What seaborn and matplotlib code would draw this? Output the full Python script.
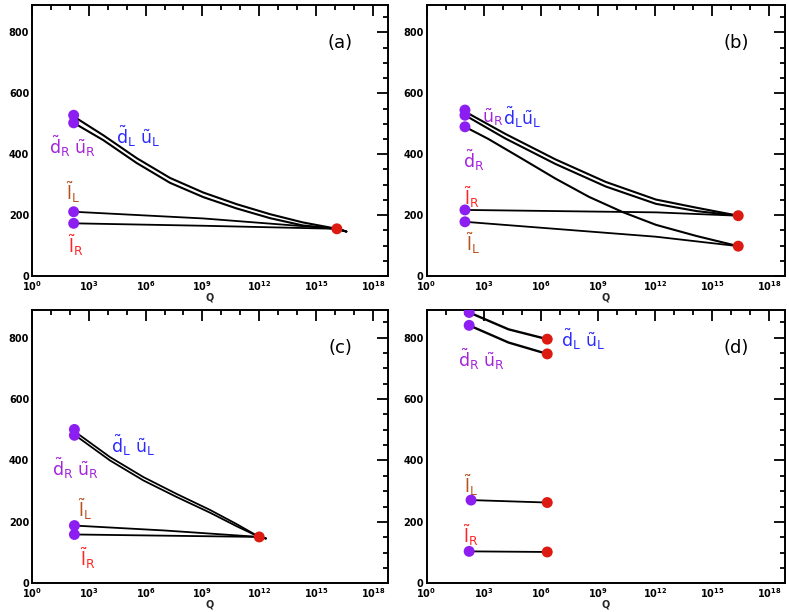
import numpy as np
import pandas as pd
import matplotlib
matplotlib.use("Agg")
import matplotlib.pyplot as plt
import seaborn as sns
from matplotlib.ticker import FixedLocator, NullFormatter

# ---------------- data (x = log10 Q, y = mass) ----------------
# panel (a)
a_sq1_x = [2.2, 3.77, 5.53, 7.29, 9.05, 10.8, 12.57, 14.3, 16.1, 16.6]
a_sq1_y = [524, 462, 387, 322, 274, 236, 203, 176, 155, 146]
a_sq2_x = [2.2, 3.77, 5.53, 7.29, 9.05, 10.8, 12.57, 14.3, 16.1, 16.6]
a_sq2_y = [503, 446, 371, 306, 259, 222, 190, 166, 155, 146]
a_lL_x = [2.2, 9.05, 16.1, 16.6]
a_lL_y = [211, 189, 155, 146]
a_lR_x = [2.2, 9.05, 16.1, 16.6]
a_lR_y = [173, 165, 155, 146]
a_low_x = [2.2, 2.2, 2.2, 2.2]
a_low_y = [528, 503, 211, 173]
a_high_x = [16.1]
a_high_y = [155]

# panel (b)
b_sq1_x = [2.02, 4.13, 6.77, 9.41, 12.05, 14.2, 16.37]
b_sq1_y = [540, 467, 383, 309, 251, 224, 198]
b_sq2_x = [2.02, 4.13, 6.77, 9.41, 12.05, 14.2, 16.37]
b_sq2_y = [528, 452, 368, 294, 237, 213, 198]
b_dR_x = [2.02, 3.25, 5.02, 6.77, 8.53, 10.3, 12.05, 14.2, 16.37]
b_dR_y = [490, 450, 385, 320, 260, 210, 168, 131, 98]
b_lR_x = [2.02, 12.05, 16.37]
b_lR_y = [217, 209, 198]
b_lL_x = [2.02, 12.05, 16.37]
b_lL_y = [178, 129, 98]
b_low_x = [2.02, 2.02, 2.02, 2.02, 2.02]
b_low_y = [545, 528, 490, 217, 178]
b_high_x = [16.37, 16.37]
b_high_y = [198, 98]

# panel (c)
c_sq1_x = [2.24, 2.53, 4.12, 5.88, 7.64, 9.4, 10.8, 12.0, 12.35]
c_sq1_y = [494, 482, 411, 346, 291, 239, 193, 151, 146]
c_sq2_x = [2.24, 2.53, 4.12, 5.88, 7.64, 9.4, 10.8, 12.0, 12.35]
c_sq2_y = [482, 471, 400, 335, 281, 230, 186, 151, 146]
c_lL_x = [2.24, 7.0, 12.0, 12.35]
c_lL_y = [188, 172, 151, 146]
c_lR_x = [2.24, 12.0, 12.35]
c_lR_y = [159, 151, 146]
c_low_x = [2.24, 2.24, 2.24, 2.24]
c_low_y = [501, 482, 188, 159]
c_high_x = [12.0]
c_high_y = [151]

# panel (d)
d_sq1_x = [2.24, 4.31, 6.34]
d_sq1_y = [882, 827, 795]
d_sq2_x = [2.24, 4.31, 6.34]
d_sq2_y = [840, 784, 747]
d_lL_x = [2.34, 6.34]
d_lL_y = [271, 263]
d_lR_x = [2.24, 6.34]
d_lR_y = [104, 102]
d_low_x = [2.24, 2.24, 2.34, 2.24]
d_low_y = [882, 840, 271, 104]
d_high_x = [6.34, 6.34, 6.34, 6.34]
d_high_y = [795, 747, 263, 102]

xtick_exponents = [0, 3, 6, 9, 12, 15, 18]
ytick_values = [0, 200, 400, 600, 800]
panel_names = ["(a)", "(b)", "(c)", "(d)"]

PURPLE_MK = "#8C1EF2"
PURPLE_TX = "#A524DA"
BLUE_TX = "#2B2BFF"
BROWN_TX = "#B5521E"
RED_TX = "#FF2424"
RED_MK = "#DD1A12"

DRUR = r"$\tilde{d}_R\ \tilde{u}_R$"
DLUL = r"$\tilde{d}_L\ \tilde{u}_L$"
LL = r"$\tilde{l}_L$"
LR = r"$\tilde{l}_R$"

# label texts: (text, logQ, mass, colour)
a_labels = [(DLUL, 5.61, 460, BLUE_TX), (DRUR, 2.12, 426, PURPLE_TX),
            (LL, 2.17, 276, BROWN_TX), (LR, 2.3, 102, RED_TX)]
b_labels = [(r"$\tilde{u}_R$", 3.47, 521, PURPLE_TX),
            (r"$\tilde{d}_L\tilde{u}_L$", 5.0, 521, BLUE_TX),
            (r"$\tilde{d}_R$", 2.46, 381, PURPLE_TX),
            (LR, 2.37, 260, RED_TX), (LL, 2.46, 107, BROWN_TX)]
c_labels = [(DLUL, 5.35, 449, BLUE_TX), (DRUR, 2.29, 373, PURPLE_TX),
            (LL, 2.8, 241, BROWN_TX), (LR, 2.94, 80, RED_TX)]
d_labels = [(DLUL, 8.22, 795, BLUE_TX), (DRUR, 2.9, 729, PURPLE_TX),
            (LL, 2.34, 318, BROWN_TX), (LR, 2.34, 156, RED_TX)]


def frame(curves):
    rows = []
    for name, xs, ys in curves:
        for x, y in zip(xs, ys):
            rows.append({"curve": name, "Q": 10.0 ** x, "m": y})
    return pd.DataFrame(rows)


panels = [
    dict(sq=[("s1", a_sq1_x, a_sq1_y), ("s2", a_sq2_x, a_sq2_y)],
         sl=[("lL", a_lL_x, a_lL_y), ("lR", a_lR_x, a_lR_y)],
         low=(a_low_x, a_low_y), high=(a_high_x, a_high_y), labels=a_labels),
    dict(sq=[("s1", b_sq1_x, b_sq1_y), ("s2", b_sq2_x, b_sq2_y), ("dR", b_dR_x, b_dR_y)],
         sl=[("lL", b_lL_x, b_lL_y), ("lR", b_lR_x, b_lR_y)],
         low=(b_low_x, b_low_y), high=(b_high_x, b_high_y), labels=b_labels),
    dict(sq=[("s1", c_sq1_x, c_sq1_y), ("s2", c_sq2_x, c_sq2_y)],
         sl=[("lL", c_lL_x, c_lL_y), ("lR", c_lR_x, c_lR_y)],
         low=(c_low_x, c_low_y), high=(c_high_x, c_high_y), labels=c_labels),
    dict(sq=[("s1", d_sq1_x, d_sq1_y), ("s2", d_sq2_x, d_sq2_y)],
         sl=[("lL", d_lL_x, d_lL_y), ("lR", d_lR_x, d_lR_y)],
         low=(d_low_x, d_low_y), high=(d_high_x, d_high_y), labels=d_labels),
]

sns.set_style("white")
plt.rcParams["font.family"] = ["DejaVu Sans"]
plt.rcParams["mathtext.default"] = "regular"

W, H = 789, 612
fig = plt.figure(figsize=(W / 100, H / 100), dpi=100)
positions = [
    [32 / W, 1 - 276 / H, 356 / W, 271 / H],
    [426.5 / W, 1 - 276 / H, 358 / W, 271 / H],
    [32 / W, 1 - 583.3 / H, 356 / W, 273.3 / H],
    [426.5 / W, 1 - 583.3 / H, 358 / W, 273.3 / H],
]
sq_lw = [1.5, 1.5, 1.3, 1.7]

for i, (p, pos) in enumerate(zip(panels, positions)):
    ax = fig.add_axes(pos)
    df_sq = frame(p["sq"])
    df_sl = frame(p["sl"])
    sns.lineplot(data=df_sq, x="Q", y="m", units="curve", estimator=None,
                 sort=False, color="black", linewidth=sq_lw[i], ax=ax, legend=False)
    sns.lineplot(data=df_sl, x="Q", y="m", units="curve", estimator=None,
                 sort=False, color="black", linewidth=1.3, ax=ax, legend=False)
    lx, ly = p["low"]
    hx, hy = p["high"]
    sns.scatterplot(x=[10.0 ** v for v in lx], y=ly, color=PURPLE_MK, s=62,
                    edgecolor="none", ax=ax, zorder=5, legend=False)
    sns.scatterplot(x=[10.0 ** v for v in hx], y=hy, color=RED_MK, s=62,
                    edgecolor="none", ax=ax, zorder=5, legend=False)
    for txt, x, y, col in p["labels"]:
        ax.text(10.0 ** x, y, txt, color=col, fontsize=12.5, ha="center", va="center")
    ax.text(0.865, 0.86, panel_names[i], transform=ax.transAxes, fontsize=13,
            ha="center", va="center", color="black")

    ax.set_xscale("log")
    ax.set_xlim(1, 10 ** 18.8)
    ax.set_ylim(0, 890)
    ax.xaxis.set_major_locator(FixedLocator([10.0 ** k for k in xtick_exponents]))
    ax.xaxis.set_minor_locator(FixedLocator([10.0 ** k for k in range(19)]))
    ax.xaxis.set_minor_formatter(NullFormatter())
    ax.set_xticklabels([r"$\mathbf{10^{%d}}$" % k for k in xtick_exponents])
    ax.set_yticks(ytick_values)
    ax.set_yticklabels([str(v) for v in ytick_values], fontweight="bold")
    ax.yaxis.set_minor_locator(FixedLocator(np.arange(0, 891, 50)))
    ax.tick_params(which="both", direction="in", top=True, right=True,
                   labelsize=7, pad=2, width=1.3, colors="black")
    ax.tick_params(which="major", length=8)
    ax.tick_params(which="minor", length=3.5)
    ax.set_xlabel("Q", fontsize=7, fontweight="bold", labelpad=0)
    ax.set_ylabel("")
    for sp in ax.spines.values():
        sp.set_visible(True)
        sp.set_linewidth(1.4)
        sp.set_color("black")

fig.savefig("out.png", dpi=100)
